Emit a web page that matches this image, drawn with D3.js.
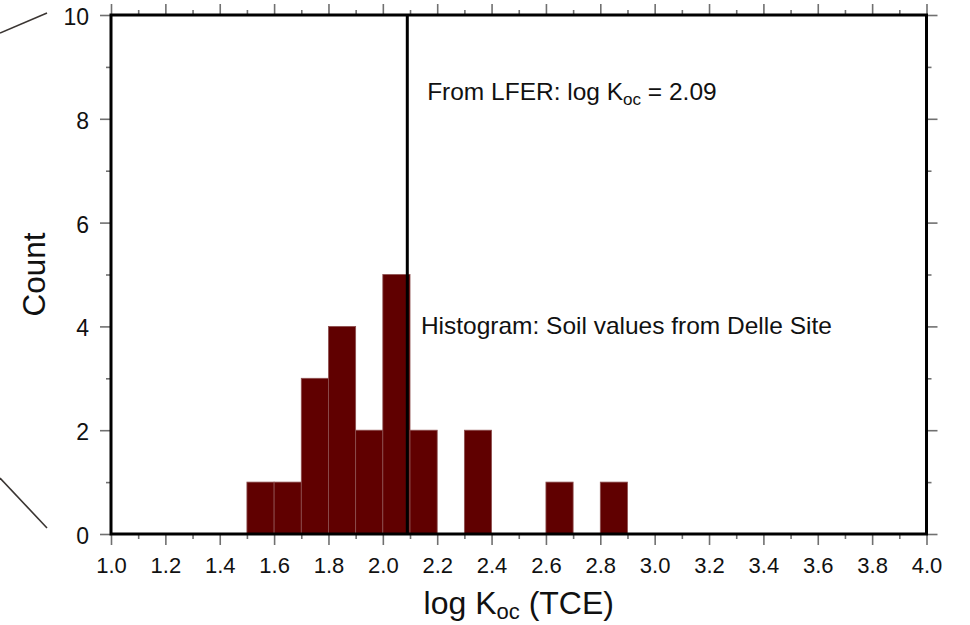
<!DOCTYPE html>
<html>
<head>
<meta charset="utf-8">
<script src="https://cdn.jsdelivr.net/npm/d3@7"></script>
<style>
  body { margin: 0; background: #fff; }
  svg { font-family: "Liberation Sans", Arial, Helvetica, sans-serif; }
</style>
</head>
<body>
<svg id="drawing_region"></svg>
<script>
// histogram bins (lower edge, width 0.1) and counts
const binStarts = [1.5, 1.6, 1.7, 1.8, 1.9, 2.0, 2.1, 2.2, 2.3, 2.4, 2.5, 2.6, 2.7, 2.8];
const counts    = [1,   1,   3,   4,   2,   5,   2,   0,   2,   0,   0,   1,   0,   1];
const binWidth = 0.1;
const lferValue = 2.09;
const xMajorTicks = [1.0, 1.2, 1.4, 1.6, 1.8, 2.0, 2.2, 2.4, 2.6, 2.8, 3.0, 3.2, 3.4, 3.6, 3.8, 4.0];
const xMinorTicks = [1.1, 1.3, 1.5, 1.7, 1.9, 2.1, 2.3, 2.5, 2.7, 2.9, 3.1, 3.3, 3.5, 3.7, 3.9];
const yMajorTicks = [0, 2, 4, 6, 8, 10];
const yMinorTicks = [1, 3, 5, 7, 9];

const config = {
    width: 970,
    height: 625,
    margin: { top: 15, right: 43.5, bottom: 91, left: 111 }
};

const svg = d3.select('#drawing_region')
    .attr('width', config.width)
    .attr('height', config.height);

const innerW = config.width - config.margin.left - config.margin.right;
const innerH = config.height - config.margin.top - config.margin.bottom;

const chart = svg.append('g')
    .attr('transform', `translate(${config.margin.left}, ${config.margin.top})`);

const x = d3.scaleLinear().domain([1.0, 4.0]).range([0, innerW]);
const y = d3.scaleLinear().domain([0, 10]).range([innerH, 0]);

// bars
chart.selectAll('.bar')
    .data(binStarts.map((b, i) => ({ x0: b, n: counts[i] })).filter(d => d.n > 0))
    .enter()
    .append('rect')
    .attr('class', 'bar')
    .attr('x', d => x(d.x0))
    .attr('y', d => y(d.n))
    .attr('width', d => x(d.x0 + binWidth) - x(d.x0))
    .attr('height', d => y(0) - y(d.n))
    .attr('fill', '#600000')
    .attr('stroke', '#8e5050')
    .attr('stroke-width', 0.8);

// ticks on all four sides
function drawAxis(axis, transform, major, minor, labels) {
    const gMin = chart.append('g').attr('transform', transform)
        .call(axis.tickValues(minor).tickSize(5).tickFormat(''));
    const gMaj = chart.append('g').attr('transform', transform)
        .call(axis.tickValues(major).tickSize(11).tickFormat(labels ? d3.format(labels) : ''));
    [gMin, gMaj].forEach(g => {
        g.select('.domain').remove();
        g.selectAll('line').attr('stroke', '#707070').attr('stroke-width', 1.6);
    });
    return gMaj;
}

const xb = drawAxis(d3.axisBottom(x), `translate(0, ${innerH})`, xMajorTicks, xMinorTicks, '.1f');
xb.selectAll('text').attr('font-size', 22).attr('fill', '#111').attr('y', 39).attr('dy', 0);
drawAxis(d3.axisTop(x), 'translate(0, 0)', xMajorTicks, xMinorTicks, null);
const yl = drawAxis(d3.axisLeft(y), 'translate(0, 0)', yMajorTicks, yMinorTicks, 'd');
yl.selectAll('text').attr('font-size', 23).attr('fill', '#111').attr('x', -22).attr('dy', '0.41em');
drawAxis(d3.axisRight(y), `translate(${innerW}, 0)`, yMajorTicks, yMinorTicks, null);

// frame
chart.append('rect')
    .attr('width', innerW)
    .attr('height', innerH)
    .attr('fill', 'none')
    .attr('stroke', '#000')
    .attr('stroke-width', 3);

// LFER line
chart.append('line')
    .attr('x1', x(lferValue)).attr('x2', x(lferValue))
    .attr('y1', 0).attr('y2', innerH)
    .attr('stroke', '#000')
    .attr('stroke-width', 3);

// annotations (slightly widened to match the original glyphs)
const t1 = chart.append('text')
    .attr('transform', `translate(${x(2.163)}, ${y(8.37)}) scale(1.065, 1)`)
    .attr('font-size', 23)
    .attr('fill', '#111');
t1.append('tspan').text('From LFER: log K');
t1.append('tspan').attr('font-size', 16).attr('dy', 5).text('oc');
t1.append('tspan').attr('dy', -5).text(' = 2.09');

chart.append('text')
    .attr('transform', `translate(${x(2.14)}, ${y(3.853)}) scale(1.065, 1)`)
    .attr('font-size', 23)
    .attr('fill', '#111')
    .text('Histogram: Soil values from Delle Site');

// axis titles
const xt = chart.append('text')
    .attr('x', innerW / 2)
    .attr('y', innerH + 80)
    .attr('text-anchor', 'middle')
    .attr('font-size', 32)
    .attr('fill', '#111');
xt.append('tspan').text('log K');
xt.append('tspan').attr('font-size', 22).attr('dy', 5).text('oc');
xt.append('tspan').attr('dy', -5).text(' (TCE)');

chart.append('text')
    .attr('transform', `translate(${-66}, ${innerH / 2}) rotate(-90)`)
    .attr('text-anchor', 'middle')
    .attr('font-size', 31.5)
    .attr('fill', '#111')
    .text('Count');

// leftover bracket strokes at the left edge
svg.append('line').attr('x1', 0).attr('y1', 33).attr('x2', 47).attr('y2', 13)
    .attr('stroke', '#3a3532').attr('stroke-width', 1.6);
svg.append('line').attr('x1', 0).attr('y1', 478).attr('x2', 47).attr('y2', 528)
    .attr('stroke', '#3a3532').attr('stroke-width', 1.6);
</script>
</body>
</html>
